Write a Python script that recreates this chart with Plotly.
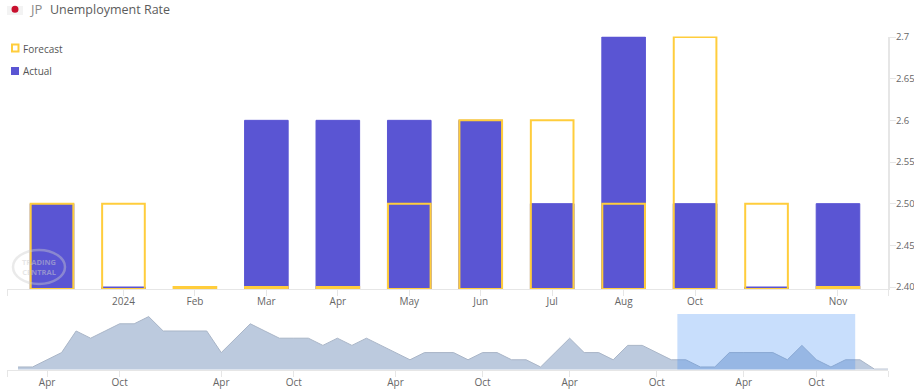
import plotly.graph_objects as go

W, H = 914, 390

# Main chart data
bar_index = [0, 1, 2, 3, 4, 5, 6, 7, 8, 9, 10, 11]
forecast = [2.5, 2.5, 2.4, 2.4, 2.4, 2.5, 2.6, 2.6, 2.5, 2.7, 2.5, 2.4]
actual = [2.5, 2.4, None, 2.6, 2.6, 2.6, 2.6, 2.5, 2.7, 2.5, 2.4, 2.5]
bar_tick_index = [1, 2, 3, 4, 5, 6, 7, 8, 9, 11]
bar_tick_labels = ["2024", "Feb", "Mar", "Apr", "May", "Jun", "Jul", "Aug", "Oct", "Nov"]
y_ticks = [2.4, 2.45, 2.5, 2.55, 2.6, 2.65, 2.7]
y_tick_labels = ["2.40", "2.45", "2.50", "2.55", "2.6", "2.65", "2.7"]

# Overview data
history = [2.4, 2.4, 2.5, 2.6, 2.9, 2.8, 2.9, 3.0, 3.0, 3.1, 2.9, 2.9, 2.9, 2.9, 2.6,
           2.8, 3.0, 2.9, 2.8, 2.8, 2.8, 2.7, 2.8, 2.7, 2.8, 2.7, 2.6, 2.5, 2.6, 2.6,
           2.6, 2.5, 2.6, 2.6, 2.5, 2.5, 2.4, 2.6, 2.8, 2.6, 2.6, 2.5, 2.7, 2.7, 2.6,
           2.5, 2.5, 2.4, 2.4, 2.6, 2.6, 2.6, 2.6, 2.5, 2.7, 2.5, 2.4, 2.5, 2.5, 2.37, 2.37]
history_index = list(range(len(history)))
history_tick_index = [2, 7, 14, 19, 26, 32, 38, 44, 50, 55]
history_tick_labels = ["Apr", "Oct", "Apr", "Oct", "Apr", "Oct", "Apr", "Oct", "Apr", "Oct"]
selection = [45.42, 57.67]

main_range = [-0.63, 11.70]
hist_range = [-0.76, 59.93]
bar_base = 2.3976

PURPLE = "#5a55d3"
YELLOW = "#ffcd3c"
AXIS = "#e6e6e6"
TEXT = "#666666"
FONT = "Open Sans"


def px_x(p):
    return p / W


def px_y(p):
    return 1 - p / H


fig = go.Figure()
fig.add_bar(
    x=bar_index, y=[None if v is None else v - bar_base for v in actual], base=bar_base,
    width=0.61, name="Actual", showlegend=False,
    marker=dict(color=PURPLE, line=dict(color=PURPLE, width=1)),
    hoverinfo="skip",
)
fig.add_bar(
    x=bar_index, y=[v - bar_base for v in forecast], base=bar_base,
    width=0.597, name="Forecast", showlegend=False,
    marker=dict(color="rgba(0,0,0,0)", line=dict(color=YELLOW, width=2)),
    hoverinfo="skip",
)
fig.add_scatter(
    x=history_index, y=history, xaxis="x2", yaxis="y2", mode="lines", fill="tozeroy",
    fillcolor="#bccade", line=dict(color="#a9b5c7", width=1), showlegend=False, hoverinfo="skip",
)

axis_common = dict(
    showgrid=False, zeroline=False, showline=True, linecolor=AXIS, linewidth=1,
    ticks="outside", ticklen=6, tickcolor=AXIS, tickwidth=1, ticklabelstandoff=-3,
    tickfont=dict(family=FONT, size=10, color=TEXT),
)
fig.update_layout(
    width=W, height=H, autosize=False, margin=dict(l=0, r=0, t=0, b=0, pad=0, autoexpand=False),
    paper_bgcolor="white", plot_bgcolor="white", barmode="overlay",
    xaxis=dict(
        axis_common, domain=[px_x(7), px_x(888)], range=main_range, anchor="y",
        tickmode="array",
        tickvals=[main_range[0]] + bar_tick_index + [main_range[1]],
        ticktext=[""] + bar_tick_labels + [""],
    ),
    yaxis=dict(
        axis_common, domain=[px_y(289), px_y(36.5)], range=[bar_base, 2.7006], side="right",
        anchor="x", tickmode="array", tickvals=y_ticks, ticktext=y_tick_labels, linewidth=2,
        ticklabelstandoff=-2, tickfont=dict(family=FONT, size=9.5, color=TEXT),
    ),
    xaxis2=dict(
        axis_common, domain=[px_x(7), px_x(888)], range=hist_range, anchor="y2",
        tickmode="array",
        tickvals=[hist_range[0]] + history_tick_index + [hist_range[1]],
        ticktext=[""] + history_tick_labels + [""],
    ),
    yaxis2=dict(
        domain=[px_y(369.5), px_y(314)], range=[2.365, 3.136], anchor="x2",
        showgrid=False, zeroline=False, showline=False, showticklabels=False, ticks="",
    ),
    shapes=[
        dict(type="rect", xref="x2", yref="y2 domain", x0=selection[0], x1=selection[1], y0=0, y1=1,
             fillcolor="rgba(51,133,245,0.27)", line=dict(width=0), layer="above"),
        dict(type="rect", xref="paper", yref="paper", x0=px_x(7), x1=px_x(23), y0=px_y(15), y1=px_y(6),
             fillcolor="#f3f3f3", line=dict(width=0)),
        dict(type="circle", xref="paper", yref="paper", x0=px_x(11.5), x1=px_x(18.5), y0=px_y(12.8), y1=px_y(5.8),
             fillcolor="#c8102e", line=dict(width=0)),
        dict(type="rect", xref="paper", yref="paper", x0=px_x(12), x1=px_x(18.5), y0=px_y(51.5), y1=px_y(44.5),
             fillcolor="white", line=dict(color=YELLOW, width=2)),
        dict(type="rect", xref="paper", yref="paper", x0=px_x(11), x1=px_x(19), y0=px_y(75), y1=px_y(67),
             fillcolor=PURPLE, line=dict(width=0)),
        dict(type="circle", xref="paper", yref="paper", x0=px_x(13), x1=px_x(65), y0=px_y(284), y1=px_y(250),
             fillcolor="rgba(0,0,0,0)", line=dict(color="rgba(205,205,205,0.42)", width=2.5), layer="above"),
    ],
    annotations=[
        dict(text="JP", xref="paper", yref="paper", x=px_x(27), y=px_y(9), xanchor="left", yanchor="middle",
             showarrow=False, font=dict(family=FONT, size=13, color="#8a8a8a")),
        dict(text="Unemployment Rate", xref="paper", yref="paper", x=px_x(47.5), y=px_y(9), xanchor="left",
             yanchor="middle", showarrow=False, font=dict(family=FONT, size=12.5, color="#5c5c5c")),
        dict(text="Forecast", xref="paper", yref="paper", x=px_x(21), y=px_y(48.5), xanchor="left",
             yanchor="middle", showarrow=False, font=dict(family=FONT, size=10, color="#555555")),
        dict(text="Actual", xref="paper", yref="paper", x=px_x(21), y=px_y(71), xanchor="left",
             yanchor="middle", showarrow=False, font=dict(family=FONT, size=10, color="#555555")),
        dict(text="<b>TRADING<br>CENTRAL</b>", xref="paper", yref="paper", x=px_x(39), y=px_y(267),
             xanchor="center", yanchor="middle", showarrow=False,
             font=dict(family=FONT, size=7.5, color="rgba(205,205,205,0.5)")),
    ],
)
fig.write_html(
    "out.html",
    config={"displayModeBar": False},
    post_script="document.body.style.margin='0';document.documentElement.style.overflow='hidden';",
)
